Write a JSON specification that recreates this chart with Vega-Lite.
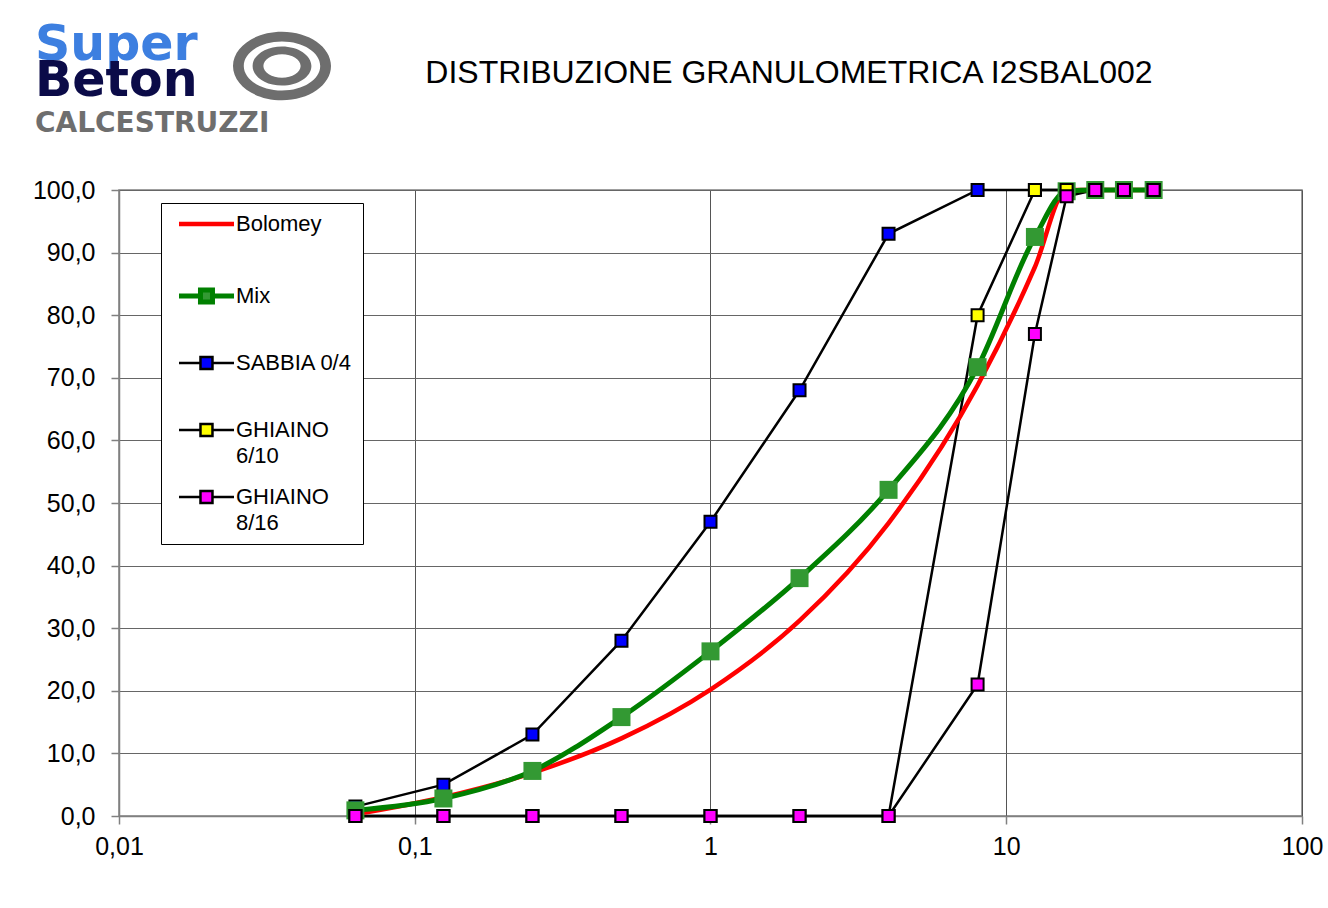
{
  "$schema": "https://vega.github.io/schema/vega-lite/v6.json",
  "padding": {"left": 31, "top": 0, "right": 0, "bottom": 0},
  "background": "white",
  "config": {"font": "Liberation Sans", "view": {"stroke": null}},
  "spacing": 27,
  "columns": 1,
  "align": "none",
  "datasets": {
    "logo": [
      {"word": "Super"},
      {"word": "Beton"},
      {"word": "CALCESTRUZZI"}
    ],
    "grading": [
      {"series": "SABBIA 0/4", "d": 0.063, "p": 1.5},
      {"series": "SABBIA 0/4", "d": 0.125, "p": 5},
      {"series": "SABBIA 0/4", "d": 0.25, "p": 13},
      {"series": "SABBIA 0/4", "d": 0.5, "p": 28},
      {"series": "SABBIA 0/4", "d": 1, "p": 47},
      {"series": "SABBIA 0/4", "d": 2, "p": 68},
      {"series": "SABBIA 0/4", "d": 4, "p": 93},
      {"series": "SABBIA 0/4", "d": 8, "p": 100},
      {"series": "SABBIA 0/4", "d": 12.5, "p": 100},
      {"series": "SABBIA 0/4", "d": 16, "p": 100},
      {"series": "SABBIA 0/4", "d": 20, "p": 100},
      {"series": "SABBIA 0/4", "d": 25, "p": 100},
      {"series": "SABBIA 0/4", "d": 31.5, "p": 100},
      {"series": "GHIAINO 6/10", "d": 0.063, "p": 0},
      {"series": "GHIAINO 6/10", "d": 0.125, "p": 0},
      {"series": "GHIAINO 6/10", "d": 0.25, "p": 0},
      {"series": "GHIAINO 6/10", "d": 0.5, "p": 0},
      {"series": "GHIAINO 6/10", "d": 1, "p": 0},
      {"series": "GHIAINO 6/10", "d": 2, "p": 0},
      {"series": "GHIAINO 6/10", "d": 4, "p": 0},
      {"series": "GHIAINO 6/10", "d": 8, "p": 80},
      {"series": "GHIAINO 6/10", "d": 12.5, "p": 100},
      {"series": "GHIAINO 6/10", "d": 16, "p": 100},
      {"series": "GHIAINO 6/10", "d": 20, "p": 100},
      {"series": "GHIAINO 6/10", "d": 25, "p": 100},
      {"series": "GHIAINO 6/10", "d": 31.5, "p": 100},
      {"series": "GHIAINO 8/16", "d": 0.063, "p": 0},
      {"series": "GHIAINO 8/16", "d": 0.125, "p": 0},
      {"series": "GHIAINO 8/16", "d": 0.25, "p": 0},
      {"series": "GHIAINO 8/16", "d": 0.5, "p": 0},
      {"series": "GHIAINO 8/16", "d": 1, "p": 0},
      {"series": "GHIAINO 8/16", "d": 2, "p": 0},
      {"series": "GHIAINO 8/16", "d": 4, "p": 0},
      {"series": "GHIAINO 8/16", "d": 8, "p": 21},
      {"series": "GHIAINO 8/16", "d": 12.5, "p": 77},
      {"series": "GHIAINO 8/16", "d": 16, "p": 99},
      {"series": "GHIAINO 8/16", "d": 20, "p": 100},
      {"series": "GHIAINO 8/16", "d": 25, "p": 100},
      {"series": "GHIAINO 8/16", "d": 31.5, "p": 100},
      {"series": "Bolomey", "d": 0.063, "p": 0.3},
      {"series": "Bolomey", "d": 0.125, "p": 3.0},
      {"series": "Bolomey", "d": 0.25, "p": 6.9},
      {"series": "Bolomey", "d": 0.5, "p": 12.4},
      {"series": "Bolomey", "d": 1, "p": 20.2},
      {"series": "Bolomey", "d": 2, "p": 31.2},
      {"series": "Bolomey", "d": 4, "p": 46.8},
      {"series": "Bolomey", "d": 8, "p": 68.8},
      {"series": "Bolomey", "d": 12.5, "p": 87.7},
      {"series": "Bolomey", "d": 16, "p": 100},
      {"series": "Bolomey", "d": 20, "p": 100},
      {"series": "Bolomey", "d": 25, "p": 100},
      {"series": "Bolomey", "d": 31.5, "p": 100},
      {"series": "Mix", "d": 0.063, "p": 0.9},
      {"series": "Mix", "d": 0.125, "p": 2.8},
      {"series": "Mix", "d": 0.25, "p": 7.2},
      {"series": "Mix", "d": 0.5, "p": 15.8},
      {"series": "Mix", "d": 1, "p": 26.3},
      {"series": "Mix", "d": 2, "p": 38.0},
      {"series": "Mix", "d": 4, "p": 52.1},
      {"series": "Mix", "d": 8, "p": 71.7},
      {"series": "Mix", "d": 12.5, "p": 92.5},
      {"series": "Mix", "d": 16, "p": 99.8},
      {"series": "Mix", "d": 20, "p": 100},
      {"series": "Mix", "d": 25, "p": 100},
      {"series": "Mix", "d": 31.5, "p": 100}
    ]
  },
  "concat": [
    {
      "spacing": 0,
      "bounds": "flush",
      "hconcat": [
        {
          "width": 113,
          "height": 150,
          "data": {"name": "logo"},
          "encoding": {
            "text": {"field": "word"},
            "x": {"value": -84},
            "y": {"field": "word", "type": "nominal", "scale": {"type": "point", "padding": 0, "domain": ["Super", "Beton", "CALCESTRUZZI"], "range": [60, 132]}, "axis": null},
            "color": {"field": "word", "type": "nominal", "scale": {"domain": ["Super", "Beton", "CALCESTRUZZI"], "range": ["#3d7fe0", "#0b0b48", "#6e6e6e"]}, "legend": null}
          },
          "layer": [
            {
              "transform": [{"filter": {"field": "word", "oneOf": ["Super", "Beton"]}}],
              "mark": {"type": "text", "align": "left", "baseline": "alphabetic", "font": "DejaVu Sans", "fontWeight": "bold", "fontSize": 49}
            },
            {
              "transform": [{"filter": {"field": "word", "equal": "CALCESTRUZZI"}}],
              "mark": {"type": "text", "align": "left", "baseline": "alphabetic", "font": "DejaVu Sans", "fontWeight": "bold", "fontSize": 28}
            }
          ]
        },
        {
          "width": 100,
          "height": 132,
          "data": {"values": [{"logo": "swirl"}]},
          "mark": {"type": "point", "shape": "M-1,0A1,0.7 0 1 1 1,0A1,0.7 0 1 1 -1,0ZM-0.78,0A0.78,0.5 0 1 0 0.78,0A0.78,0.5 0 1 0 -0.78,0ZM-0.6,0A0.6,0.4 0 1 1 0.6,0A0.6,0.4 0 1 1 -0.6,0ZM-0.38,0A0.38,0.24 0 1 0 0.38,0A0.38,0.24 0 1 0 -0.38,0Z", "size": 9604, "filled": true, "fill": "#6e6e6e", "strokeWidth": 0, "opacity": 1},
          "encoding": {}
        },
        {
          "width": 914,
          "height": 146,
          "data": {"values": [{"heading": "DISTRIBUZIONE GRANULOMETRICA I2SBAL002"}]},
          "mark": {"type": "text", "fontSize": 32, "baseline": "middle", "align": "center", "color": "black"},
          "encoding": {"text": {"field": "heading"}}
        }
      ]
    },
    {
      "width": 1183,
      "height": 626,
      "view": {"stroke": "#808080", "strokeWidth": 1.5},
      "data": {"name": "grading"},
      "encoding": {
        "x": {
          "field": "d", "type": "quantitative",
          "scale": {"type": "log", "domain": [0.01, 100], "nice": false},
          "axis": {"title": null, "values": [0.01, 0.1, 1, 10, 100], "labelExpr": "replace(format(datum.value,'~g'),'.',',')", "labelFontSize": 25, "labelColor": "black", "labelPadding": 10, "tickSize": 8, "tickColor": "#808080", "tickWidth": 1.5, "domainColor": "#808080", "domainWidth": 1.5, "gridColor": "#555555", "gridWidth": 1, "labelFlush": false, "labelOverlap": false}
        },
        "y": {
          "field": "p", "type": "quantitative",
          "scale": {"domain": [0, 100], "nice": false},
          "axis": {"title": null, "values": [0, 10, 20, 30, 40, 50, 60, 70, 80, 90, 100], "labelExpr": "replace(format(datum.value,'.1f'),'.',',')", "labelFontSize": 25, "labelColor": "black", "labelPadding": 16, "tickSize": 8, "tickColor": "#808080", "tickWidth": 1.5, "domainColor": "#808080", "domainWidth": 1.5, "gridColor": "#666666", "gridWidth": 1.2, "labelOverlap": false}
        }
      },
      "layer": [
        {
          "transform": [{"filter": {"field": "series", "oneOf": ["SABBIA 0/4", "GHIAINO 6/10", "GHIAINO 8/16"]}}],
          "mark": {"type": "line", "strokeWidth": 2.5},
          "encoding": {
            "stroke": {
              "field": "series", "type": "nominal",
              "scale": {"domain": ["Bolomey", "Mix", "SABBIA 0/4", "GHIAINO 6/10", "GHIAINO 8/16"], "range": ["#ff0000", "#008000", "#000000", "#000000", "#000000"]},
              "legend": {
                "title": null, "orient": "none", "legendX": 42, "legendY": 203,
                "padding": 10, "fillColor": "white", "strokeColor": "black",
                "labelFontSize": 22, "labelColor": "black", "labelOffset": 43, "labelLimit": 300,
                "symbolSize": 256, "symbolStrokeWidth": 2.5, "rowPadding": 19,
                "labelExpr": "indexof(datum.label,'GHIAINO')>=0 ? split(datum.label,' ') : [datum.label, ' ']",
                "encode": {
                  "symbols": {"update": {
                    "shape": {"signal": "datum.value == 'Bolomey' ? 'M-0.375,0H6.5M3.06,-0.75L3.06,-0.75M3.06,0.75L3.06,0.75' : 'M-0.375,0H2.31M3.81,0H6.5M2.31,-0.75H3.81V0.75H2.31Z'"},
                    "fill": {"signal": "datum.value == 'Bolomey' ? 'transparent' : datum.value == 'Mix' ? '#339933' : datum.value == 'SABBIA 0/4' ? '#0000ff' : datum.value == 'GHIAINO 6/10' ? '#ffff00' : '#ff00ff'"},
                    "strokeWidth": {"signal": "datum.value == 'Bolomey' ? 4.5 : datum.value == 'Mix' ? 5 : 2.5"},
                    "opacity": {"value": 1}
                  }},
                  "labels": {"update": {"lineHeight": {"value": 26}}}
                }
              }
            }
          }
        },
        {
          "transform": [{"filter": {"field": "series", "equal": "SABBIA 0/4"}}],
          "mark": {"type": "point", "shape": "square", "size": 144, "filled": true, "stroke": "black", "strokeWidth": 2, "opacity": 1},
          "encoding": {
            "fill": {"field": "series", "type": "nominal", "scale": {"domain": ["SABBIA 0/4", "GHIAINO 6/10", "GHIAINO 8/16"], "range": ["#0000ff", "#ffff00", "#ff00ff"]}, "legend": null}
          }
        },
        {
          "transform": [{"filter": {"field": "series", "equal": "Bolomey"}}],
          "mark": {"type": "line", "strokeWidth": 4.5, "interpolate": "monotone"},
          "encoding": {"stroke": {"field": "series", "type": "nominal"}}
        },
        {
          "transform": [{"filter": {"field": "series", "equal": "Mix"}}],
          "mark": {"type": "line", "strokeWidth": 5, "interpolate": "monotone"},
          "encoding": {"stroke": {"field": "series", "type": "nominal"}}
        },
        {
          "transform": [{"filter": {"field": "series", "equal": "Mix"}}],
          "mark": {"type": "point", "shape": "square", "size": 324, "filled": true, "color": "#339933", "strokeWidth": 0, "opacity": 1},
          "encoding": {}
        },
        {
          "transform": [{"filter": {"field": "series", "oneOf": ["GHIAINO 6/10", "GHIAINO 8/16"]}}],
          "mark": {"type": "point", "shape": "square", "size": 144, "filled": true, "stroke": "black", "strokeWidth": 2, "opacity": 1},
          "encoding": {
            "fill": {"field": "series", "type": "nominal", "legend": null}
          }
        }
      ]
    }
  ]
}
